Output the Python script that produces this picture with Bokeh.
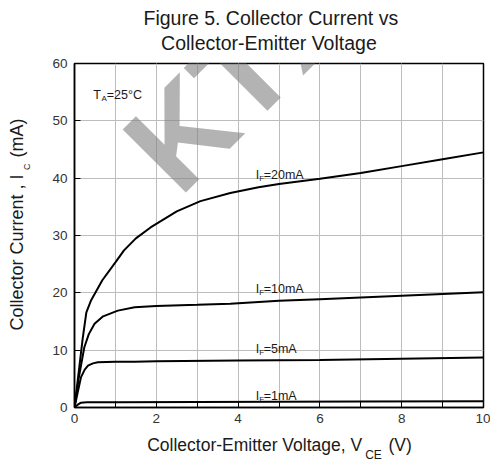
import math
from bokeh.plotting import figure
from bokeh.models import FixedTicker, Label, LinearAxis
from bokeh.embed import file_html
from bokeh.resources import INLINE

# ---- data ----
vce_20 = [0, 0.1, 0.2, 0.29, 0.4, 0.68, 1.0, 1.21, 1.5, 1.86, 2.5, 3.08, 3.81, 4.5, 5, 6, 7, 8, 9, 10]
ic_20 = [0, 6.0, 12.0, 16.6, 18.6, 22.2, 25.3, 27.4, 29.5, 31.4, 34.2, 36.0, 37.4, 38.4, 39.0, 39.9, 40.9, 42.1, 43.3, 44.5]

vce_10 = [0, 0.1, 0.24, 0.35, 0.49, 0.7, 1.06, 1.47, 2, 3, 3.81, 5, 6, 7, 8, 9, 10]
ic_10 = [0, 5.0, 10.5, 12.8, 14.6, 15.9, 16.9, 17.5, 17.7, 17.9, 18.1, 18.6, 18.9, 19.2, 19.5, 19.8, 20.1]

vce_5 = [0, 0.08, 0.16, 0.25, 0.33, 0.45, 0.57, 1.0, 1.47, 2, 4, 6, 8, 10]
ic_5 = [0, 2.7, 5.3, 6.6, 7.3, 7.7, 7.9, 8.0, 8.0, 8.05, 8.2, 8.3, 8.5, 8.7]

vce_1 = [0, 0.08, 0.16, 0.3, 1, 3, 5, 7, 10]
ic_1 = [0, 0.5, 0.85, 0.9, 0.92, 0.95, 1.0, 1.05, 1.1]

x_ticks = [0, 2, 4, 6, 8, 10]
x_minor = [0, 1, 2, 3, 4, 5, 6, 7, 8, 9, 10]
y_ticks = [0, 10, 20, 30, 40, 50, 60]

curve_labels = ["20mA", "10mA", "5mA", "1mA"]
label_y = [40.47, 20.7, 10.24, 1.92]

title_lines = ["Figure 5. Collector Current vs", "Collector-Emitter  Voltage"]
x_label = ["Collector-Emitter Voltage, V", "CE", "(V)"]
y_label = ["Collector Current , I", "C", "(mA)"]

FONT = "Liberation Sans"
TXT = "#1a1a1a"

p = figure(frame_width=409, frame_height=344, x_range=(0, 10), y_range=(0, 60),
           output_backend="svg", toolbar_location=None, title=None,
           min_border_left=74, min_border_right=7, min_border_top=63, min_border_bottom=53)
p.background_fill_color = "white"
p.border_fill_color = "white"
p.outline_line_color = "black"
p.outline_line_width = 1.5

xa = p.xaxis[0]
ya = p.yaxis[0]
xa.ticker = FixedTicker(ticks=x_ticks, minor_ticks=x_minor)
ya.ticker = FixedTicker(ticks=y_ticks, minor_ticks=[])
for ax in (xa, ya):
    ax.axis_line_color = "black"
    ax.axis_line_width = 1.5
    ax.major_tick_in = 6
    ax.major_tick_out = 0
    ax.minor_tick_in = 6
    ax.minor_tick_out = 0
    ax.major_tick_line_color = "black"
    ax.minor_tick_line_color = "black"
    ax.major_label_text_font = FONT
    ax.major_label_text_font_size = "13.5px"
    ax.major_label_text_color = "#333333"
xa.major_label_standoff = 6
ya.major_label_standoff = 7

p.xgrid.grid_line_color = "#bdbdbd"
p.xgrid.minor_grid_line_color = "#bdbdbd"
p.ygrid.grid_line_color = "#bdbdbd"

for xs, ys in ((vce_20, ic_20), (vce_10, ic_10), (vce_5, ic_5), (vce_1, ic_1)):
    p.line(xs, ys, line_color="black", line_width=2)


def text_axis(where, ticks, texts, size, standoff, orient="horizontal"):
    ax = LinearAxis(ticker=FixedTicker(ticks=ticks, minor_ticks=[]),
                    major_label_overrides={t: s for t, s in zip(ticks, texts)},
                    major_tick_in=0, major_tick_out=0, minor_tick_in=0, minor_tick_out=0,
                    axis_line_color=None, major_label_text_font=FONT,
                    major_label_text_font_size=size, major_label_text_color=TXT,
                    major_label_standoff=standoff, major_label_orientation=orient)
    p.add_layout(ax, where)


# figure title, two lines (inner line first)
text_axis("above", [4.82], [title_lines[1]], "19.5px", 10)
text_axis("above", [4.80], [title_lines[0]], "19.5px", 0)

# x axis title:  Collector-Emitter Voltage, V_CE (V)
text_axis("below", [4.405, 7.96], [x_label[0], x_label[2]], "17.5px", 9)
text_axis("below", [7.31], [x_label[1]], "12px", -10)

# y axis title:  Collector Current , I_C (mA)
text_axis("left", [42.0], [y_label[1]], "9px", 17, "parallel")
text_axis("left", [27.04, 47.0], [y_label[0], y_label[2]], "18px", -8, "parallel")


def lab(**kw):
    base = dict(text_font=FONT, text_color=TXT, text_baseline="alphabetic")
    base.update(kw)
    p.add_layout(Label(**base))


# curve labels  I_F=...
for t, yv in zip(curve_labels, label_y):
    lab(x=4.43, y=yv, text="I", text_font_size="12.5px")
    lab(x=4.43, y=yv, x_offset=3.6, y_offset=-3.5, text="F", text_font_size="8px")
    lab(x=4.43, y=yv, x_offset=8.0, text="=" + t, text_font_size="12.5px")

# T_A=25°C
lab(x=0.46, y=54.55, text="T", text_font_size="12.5px")
lab(x=0.46, y=54.55, x_offset=8.2, y_offset=-4, text="A", text_font_size="8px")
lab(x=0.46, y=54.55, x_offset=13.5, text="=25°C", text_font_size="12.5px")

# watermark
p.add_layout(Label(x=125, y=189, x_units="screen", y_units="screen", text="KTX",
                   angle=math.pi / 4, text_font=FONT, text_font_style="bold",
                   text_font_size="130px", text_color="#808080", text_alpha=0.6))

open("out.html", "w").write(file_html(p, INLINE))
